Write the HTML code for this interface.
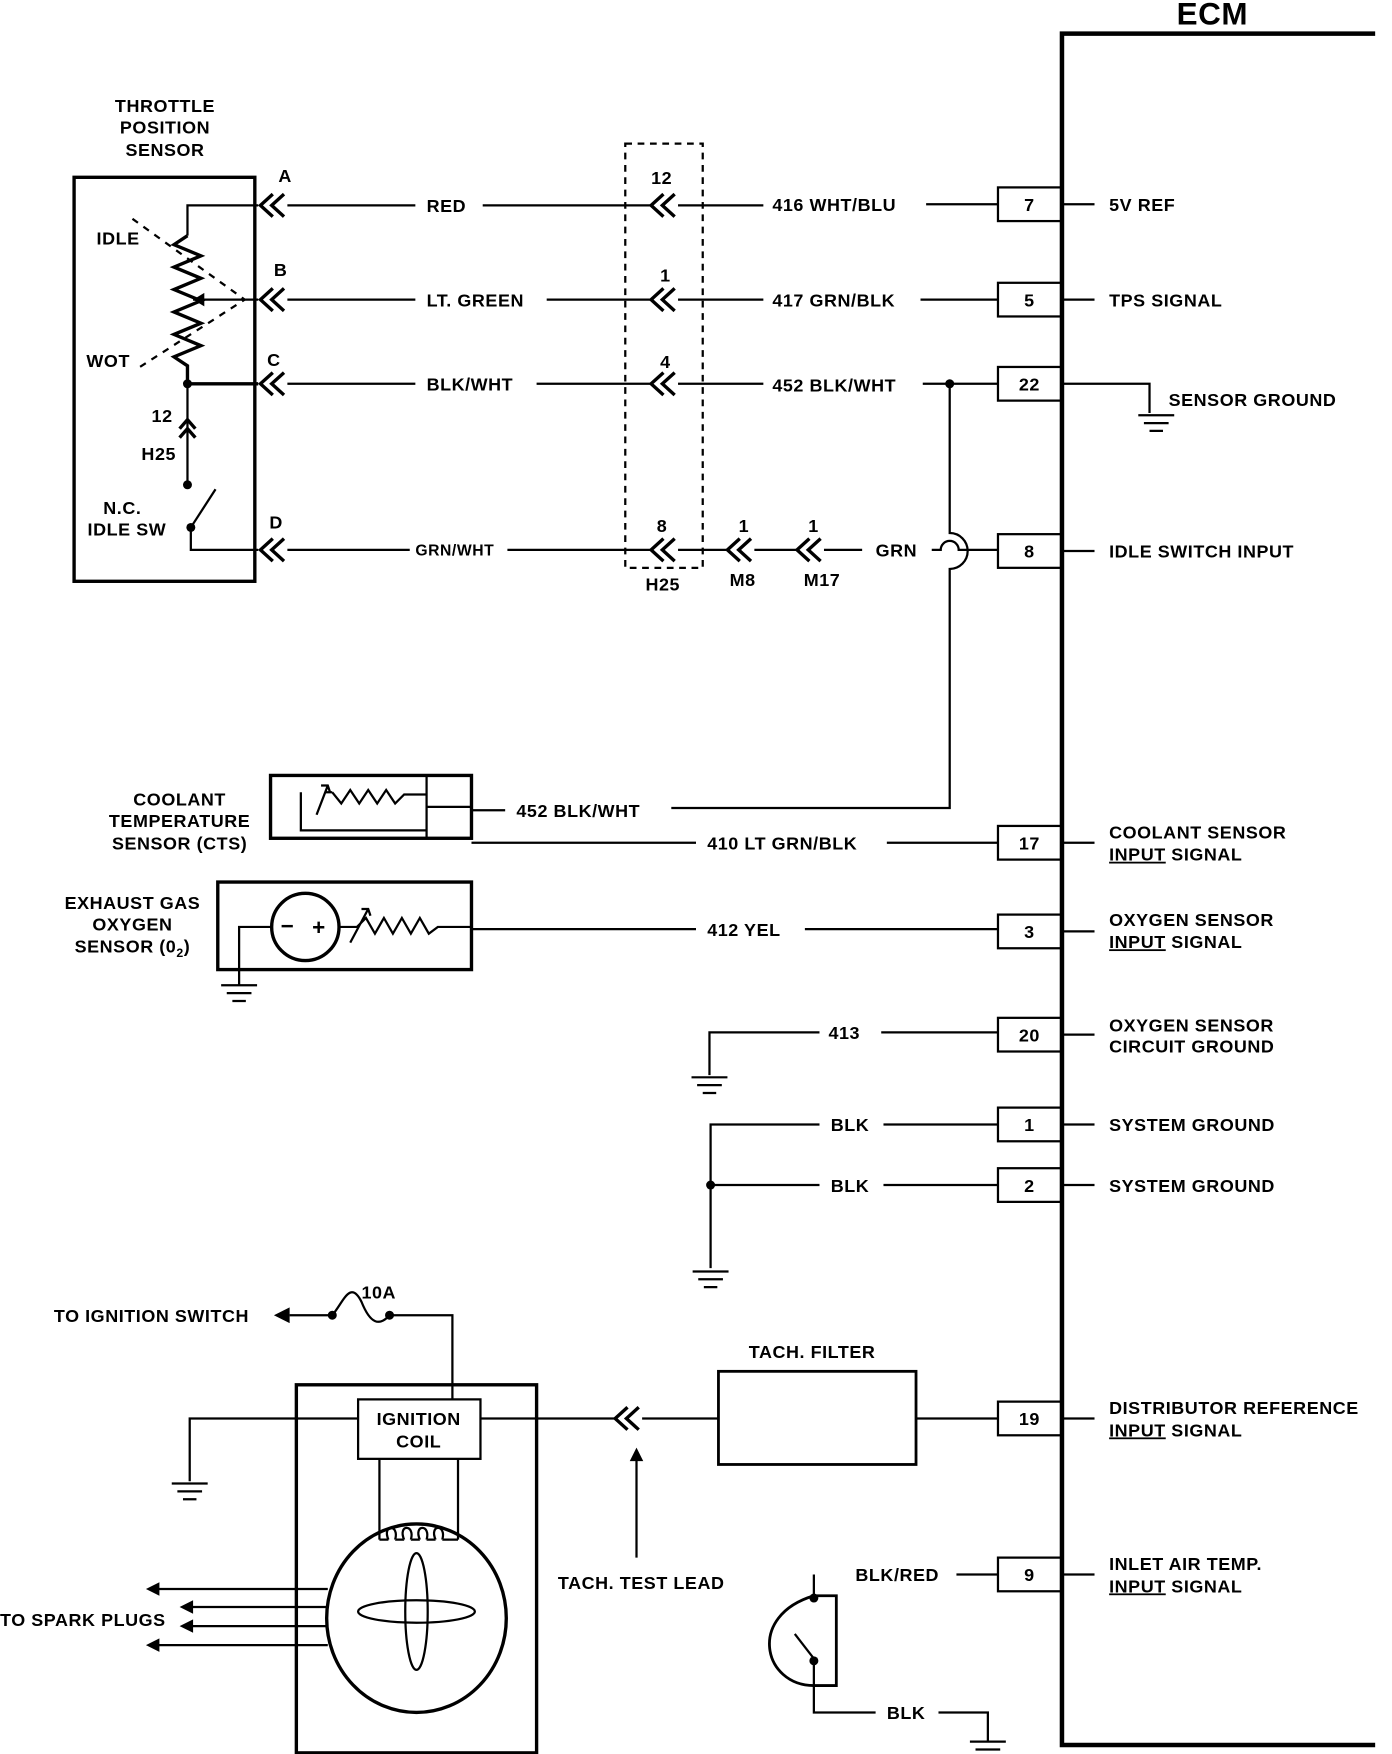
<!DOCTYPE html>
<html><head><meta charset="utf-8"><style>
html,body{margin:0;padding:0;background:#fff}
svg{display:block}
text{font-family:"Liberation Sans",sans-serif;font-weight:bold;font-size:16px;fill:#000;letter-spacing:0.5px}
</style></head><body>
<svg width="1392" height="1754" viewBox="0 0 1240 1563" preserveAspectRatio="none" xmlns="http://www.w3.org/2000/svg">
<defs>
<g id="chev"><path d="M11,-10 L0,0 L11,10 M21,-10 L10,0 L21,10" fill="none" stroke="#000" stroke-width="3"/></g>
<g id="gnd"><path d="M-16,0 H16 M-11,7 H11 M-6,14 H6" stroke="#000" stroke-width="2"/></g>
</defs>
<g stroke="#000" stroke-width="2" fill="none">
<path d="M1225,30 H946 V1555 H1225" stroke-width="4"/>
<rect x="889" y="167" width="57" height="30"/>
<rect x="889" y="252" width="57" height="30"/>
<rect x="889" y="327" width="57" height="30"/>
<rect x="889" y="476" width="57" height="30"/>
<rect x="889" y="736" width="57" height="30"/>
<rect x="889" y="815" width="57" height="30"/>
<rect x="889" y="907" width="57" height="30"/>
<rect x="889" y="987" width="57" height="30"/>
<rect x="889" y="1041" width="57" height="30"/>
<rect x="889" y="1249" width="57" height="30"/>
<rect x="889" y="1388" width="57" height="30"/>
<path d="M946,182 H975 M946,267 H975 M946,491 H975 M946,751 H975 M946,830 H975 M946,922 H975 M946,1002 H975 M946,1056 H975 M946,1264 H975 M946,1403 H975"/>
<path d="M946,342 H1024 V368"/>
<rect x="66" y="158" width="161" height="360" stroke-width="3"/>
<path d="M230,183 H167 V210"/>
<path d="M167,210 L155,218 L179,228 L155,238 L179,248 L155,258 L179,268 L155,278 L179,288 L155,298 L179,308 L155,318 L167,326 V342 H230" stroke-width="3"/>
<path d="M230,267 H172"/>
<path d="M118,195 L218,267 L120,330" stroke-dasharray="6,6"/>
<path d="M167,342 V432"/>
<path d="M160,382 L167,374 L174,382 M160,390 L167,382 L174,390" stroke-width="3"/>
<path d="M170,470 L192,436"/>
<path d="M170,470 V490 H230"/>
<path d="M256,183 H370 M430,183 H580 M604,183 H680 M825,182 H889"/>
<path d="M256,267 H370 M487,267 H580 M604,267 H680 M820,267 H889"/>
<path d="M256,342 H370 M478,342 H580 M604,342 H680 M822,342 H889"/>
<path d="M256,490 H365 M452,490 H580 M604,490 H648 M672,490 H710 M734,490 H768 M830,490 H838 A8,8 0 0 1 854,490 H889"/>
<path d="M846,342 V475 A8,8 0 0 1 846,507 V720 H598"/>
<rect x="557" y="128" width="69" height="378" stroke-dasharray="6,5"/>
<rect x="241" y="691" width="179" height="56" stroke-width="3"/>
<path d="M380,691 V747 M380,719 H420"/>
<path d="M380,708 H360 L352,716 L344,704 L336,716 L328,704 L320,716 L312,704 L304,716 L296,706 M296,706 H290 M268,706 V740 H380" />
<path d="M282,726 L292,700 M286,700 L292,700 L294,706"/>
<path d="M420,722 H450 M420,751 H620 M790,751 H889"/>
<rect x="194" y="786" width="226" height="78" stroke-width="3"/>
<ellipse cx="272" cy="826" rx="30" ry="30" stroke-width="3"/>
<path d="M242,826 H213 V878"/>
<path d="M302,826 H318 L326,818 L334,832 L342,818 L350,832 L358,818 L366,832 L374,818 L382,832 L390,826 H420"/>
<path d="M312,840 L328,810 M322,810 L328,810 L330,816"/>
<path d="M420,828 H620 M717,828 H889"/>
<path d="M730,920 H632 V958 M785,920 H889"/>
<path d="M730,1002 H633 V1130 M633,1056 H730 M787,1002 H889 M787,1056 H889"/>
<path d="M258,1172 H296 C306,1160 312,1140 322,1160 C330,1180 338,1182 347,1172 H403 V1247"/>
<rect x="264" y="1234" width="214" height="328" stroke-width="3"/>
<rect x="319" y="1247" width="109" height="53"/>
<path d="M319,1264 H169 V1320 M428,1264 H548 M572,1264 H640 M816,1264 H889"/>
<rect x="640" y="1222" width="176" height="83" stroke-width="2.5"/>
<path d="M567,1388 V1300"/>
<path d="M338,1300 V1372 M408,1300 V1372 M338,1372 H346 M400,1372 H408"/>
<path d="M346,1372 C340,1358 356,1358 352,1372 M360,1372 C354,1358 370,1358 366,1372 M374,1372 C368,1358 384,1358 380,1372 M388,1372 C382,1358 398,1358 394,1372 M352,1372 H360 M366,1372 H374 M380,1372 H388 M394,1372 H400"/>
<ellipse cx="371" cy="1442" rx="80" ry="84" stroke-width="3"/>
<ellipse cx="371" cy="1436" rx="10" ry="52"/>
<ellipse cx="371" cy="1436" rx="52" ry="10"/>
<path d="M292,1416 H140 M292,1432 H168 M292,1449 H168 M292,1466 H140"/>
<path d="M852,1403 H889 M725,1403 V1424 M725,1480 V1526 H780 M836,1526 H880 V1552"/>
<path d="M725,1422 H745 V1502 H725 C680,1502 665,1440 725,1422 Z" stroke-width="2.5"/>
<path d="M708,1456 L725,1478"/>
</g>
<g fill="#000">
<circle cx="167" cy="342" r="4"/><circle cx="167" cy="432" r="4"/><circle cx="170" cy="470" r="4"/>
<circle cx="846" cy="342" r="4"/><circle cx="633" cy="1056" r="4"/>
<circle cx="296" cy="1172" r="4"/><circle cx="347" cy="1172" r="4"/>
<circle cx="725" cy="1424" r="4"/><circle cx="725" cy="1480" r="4"/>
<path d="M172,267 l10,-6 v12z"/>
<path d="M244,1172 l14,-7 v14z"/>
<path d="M130,1416 l12,-6 v12z M160,1432 l12,-6 v12z M160,1449 l12,-6 v12z M130,1466 l12,-6 v12z"/>
<path d="M567,1290 l-6,12 h12z"/>
</g>
<use href="#chev" x="232" y="183"/><use href="#chev" x="232" y="267"/><use href="#chev" x="232" y="342"/><use href="#chev" x="232" y="490"/>
<use href="#chev" x="580" y="183"/><use href="#chev" x="580" y="267"/><use href="#chev" x="580" y="342"/><use href="#chev" x="580" y="490"/>
<use href="#chev" x="648" y="490"/><use href="#chev" x="710" y="490"/><use href="#chev" x="548" y="1264"/>
<use href="#gnd" x="1030" y="370"/><use href="#gnd" x="213" y="878"/><use href="#gnd" x="632" y="960"/><use href="#gnd" x="633" y="1133"/><use href="#gnd" x="169" y="1322"/><use href="#gnd" x="880" y="1552"/>
<text x="1080" y="22" text-anchor="middle" style="font-size:28px">ECM</text>
<text x="147" y="100" text-anchor="middle">THROTTLE</text>
<text x="147" y="119" text-anchor="middle">POSITION</text>
<text x="147" y="139" text-anchor="middle">SENSOR</text>
<text x="248" y="162">A</text><text x="244" y="246">B</text><text x="238" y="326">C</text><text x="240" y="471">D</text>
<text x="86" y="218">IDLE</text><text x="77" y="327">WOT</text>
<text x="135" y="376">12</text><text x="126" y="410">H25</text>
<text x="92" y="458">N.C.</text><text x="78" y="477">IDLE SW</text>
<text x="380" y="189">RED</text><text x="380" y="273">LT. GREEN</text><text x="380" y="348">BLK/WHT</text>
<text x="370" y="495" style="font-size:14px">GRN/WHT</text>
<text x="580" y="164">12</text><text x="588" y="251">1</text><text x="588" y="328">4</text><text x="585" y="474">8</text>
<text x="575" y="526">H25</text><text x="658" y="474">1</text><text x="650" y="522">M8</text><text x="720" y="474">1</text><text x="716" y="522">M17</text>
<text x="688" y="188">416 WHT/BLU</text><text x="688" y="273">417 GRN/BLK</text><text x="688" y="349">452 BLK/WHT</text>
<text x="780" y="496">GRN</text>
<text x="917" y="188" text-anchor="middle">7</text><text x="917" y="273" text-anchor="middle">5</text><text x="917" y="348" text-anchor="middle">22</text>
<text x="917" y="497" text-anchor="middle">8</text><text x="917" y="757" text-anchor="middle">17</text><text x="917" y="836" text-anchor="middle">3</text>
<text x="917" y="928" text-anchor="middle">20</text><text x="917" y="1008" text-anchor="middle">1</text><text x="917" y="1062" text-anchor="middle">2</text>
<text x="917" y="1270" text-anchor="middle">19</text><text x="917" y="1409" text-anchor="middle">9</text>
<text x="988" y="188">5V REF</text><text x="988" y="273">TPS  SIGNAL</text><text x="1041" y="362">SENSOR GROUND</text>
<text x="988" y="497">IDLE SWITCH INPUT</text>
<text x="988" y="747">COOLANT SENSOR</text><text x="988" y="767"><tspan text-decoration="underline">INPUT</tspan> SIGNAL</text>
<text x="988" y="825">OXYGEN SENSOR</text><text x="988" y="845"><tspan text-decoration="underline">INPUT</tspan> SIGNAL</text>
<text x="988" y="919">OXYGEN SENSOR</text><text x="988" y="938">CIRCUIT GROUND</text>
<text x="988" y="1008">SYSTEM GROUND</text><text x="988" y="1062">SYSTEM GROUND</text>
<text x="988" y="1260">DISTRIBUTOR REFERENCE</text><text x="988" y="1280"><tspan text-decoration="underline">INPUT</tspan> SIGNAL</text>
<text x="988" y="1399">INLET AIR TEMP.</text><text x="988" y="1419"><tspan text-decoration="underline">INPUT</tspan> SIGNAL</text>
<text x="160" y="718" text-anchor="middle">COOLANT</text><text x="160" y="737" text-anchor="middle">TEMPERATURE</text><text x="160" y="757" text-anchor="middle">SENSOR (CTS)</text>
<text x="118" y="810" text-anchor="middle">EXHAUST GAS</text><text x="118" y="829" text-anchor="middle">OXYGEN</text><text x="118" y="849" text-anchor="middle">SENSOR (0<tspan style="font-size:11px" dy="4">2</tspan><tspan dy="-4">)</tspan></text>
<text x="250" y="832" style="font-size:20px">−</text><text x="278" y="833" style="font-size:20px">+</text>
<text x="460" y="728">452 BLK/WHT</text><text x="630" y="757">410  LT GRN/BLK</text><text x="630" y="834">412  YEL</text>
<text x="738" y="926">413</text><text x="740" y="1008">BLK</text><text x="740" y="1062">BLK</text>
<text x="48" y="1178">TO IGNITION SWITCH</text><text x="322" y="1157">10A</text>
<text x="373" y="1270" text-anchor="middle">IGNITION</text><text x="373" y="1290" text-anchor="middle">COIL</text>
<text x="667" y="1210">TACH. FILTER</text><text x="497" y="1416">TACH. TEST LEAD</text>
<text x="0" y="1449">TO SPARK PLUGS</text>
<text x="762" y="1409">BLK/RED</text><text x="790" y="1532">BLK</text>
</svg>
</body></html>
